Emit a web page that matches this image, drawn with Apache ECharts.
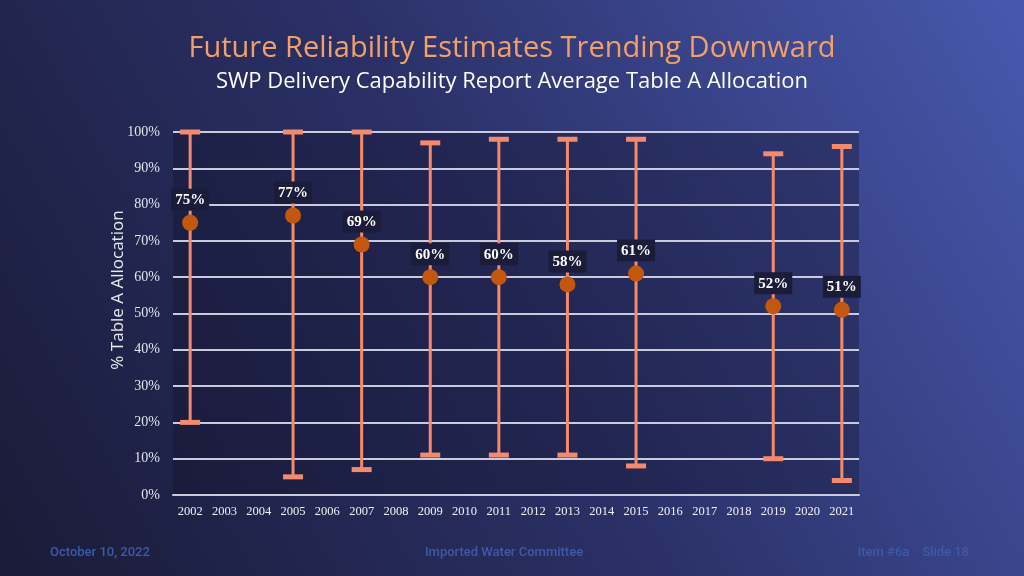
<!DOCTYPE html>
<html>
<head>
  <meta charset="utf-8" />
  <title>Future Reliability Estimates</title>
  <style>
    html, body { margin: 0; padding: 0; width: 1024px; height: 576px; overflow: hidden; background: #1b1e3a; }
    #chartBox { width: 1024px; height: 576px; }
  </style>
</head>
<body>
  <div id="chartBox"></div>
</body>
<script src="https://cdn.jsdelivr.net/npm/echarts@6/dist/echarts.min.js"></script>
<script>
  // x axis years
  var years = ['2002', '2003', '2004', '2005', '2006', '2007', '2008', '2009', '2010', '2011',
               '2012', '2013', '2014', '2015', '2016', '2017', '2018', '2019', '2020', '2021'];
  // report years that have a value
  var reportYears = ['2002', '2005', '2007', '2009', '2011', '2013', '2015', '2019', '2021'];
  var avgAlloc  = [75, 77, 69, 60, 60, 58, 61, 52, 51];
  var lowAlloc  = [20, 5, 7, 11, 11, 11, 8, 10, 4];
  var highAlloc = [100, 100, 100, 97, 98, 98, 98, 94, 96];
  var yTicks = [0, 10, 20, 30, 40, 50, 60, 70, 80, 90, 100];

  var whiskerColor = '#f38a6c';
  var dotColor = '#c2570d';
  var serif = '"Liberation Serif", "DejaVu Serif", serif';
  var sans = '"Open Sans", "Noto Sans", sans-serif';

  (function() {
    var rangeData = reportYears.map(function(y, i) {
      return [years.indexOf(y), lowAlloc[i], highAlloc[i]];
    });
    var avgData = reportYears.map(function(y, i) {
      return [years.indexOf(y), avgAlloc[i]];
    });

    var myChart = echarts.init(document.getElementById('chartBox'));
    var option = {
      backgroundColor: new echarts.graphic.LinearGradient(0, 1, 1, 0, [
        {offset: 0, color: '#191b37'},
        {offset: 0.5, color: '#2b3168'},
        {offset: 1, color: '#4858ae'}
      ]),
      title: [
        {
          text: 'Future Reliability Estimates Trending Downward',
          left: 'center',
          top: 28,
          textStyle: {color: '#f2a068', fontFamily: sans, fontSize: 29, fontWeight: 'normal', lineHeight: 32}
        },
        {
          text: 'SWP Delivery Capability Report Average Table A Allocation',
          left: 'center',
          top: 65,
          textStyle: {color: '#ffffff', fontFamily: sans, fontSize: 22, fontWeight: 'normal', lineHeight: 24}
        }
      ],
      grid: {
        left: 173,
        right: 165,
        top: 132,
        bottom: 81,
        show: true,
        backgroundColor: 'rgba(16,18,40,0.35)',
        borderWidth: 0
      },
      xAxis: {
        type: 'category',
        data: years,
        axisLine: {show: true, lineStyle: {color: '#c9cbdc', width: 2}},
        axisTick: {show: false},
        axisLabel: {color: '#f0f0f6', fontFamily: serif, fontSize: 12.5, margin: 10, interval: 0}
      },
      yAxis: {
        type: 'value',
        min: yTicks[0],
        max: yTicks[yTicks.length - 1],
        interval: 10,
        axisLine: {show: false},
        axisTick: {show: false},
        axisLabel: {color: '#e4e4ee', fontFamily: serif, fontSize: 14, margin: 13, formatter: '{value}%'},
        splitLine: {lineStyle: {color: '#c9cbdc', width: 2}}
      },
      graphic: [
        {
          type: 'text', x: 118, y: 290, rotation: Math.PI / 2,
          style: {text: '% Table A Allocation', fill: '#e8e8f0', font: '17px ' + sans, align: 'center', verticalAlign: 'middle'}
        },
        {
          type: 'text', x: 50, y: 553,
          style: {text: 'October 10, 2022', fill: '#3d5aa8', font: '500 13px Roboto', verticalAlign: 'middle'}
        },
        {
          type: 'text', x: 504, y: 553,
          style: {text: 'Imported Water Committee', fill: '#3d5aa8', font: '500 13px Roboto', align: 'center', verticalAlign: 'middle'}
        },
        {
          type: 'text', x: 969, y: 553,
          style: {text: 'Item #6a    Slide 18', fill: '#3d5aa8', font: '500 13px Roboto', align: 'right', verticalAlign: 'middle'}
        }
      ],
      series: [
        {
          type: 'custom',
          data: rangeData,
          z: 3,
          renderItem: function(params, api) {
            var lo = api.coord([api.value(0), api.value(1)]);
            var hi = api.coord([api.value(0), api.value(2)]);
            var capW = 20, capH = 5;
            return {
              type: 'group',
              children: [
                {type: 'line', shape: {x1: lo[0], y1: lo[1], x2: hi[0], y2: hi[1]}, style: {stroke: whiskerColor, lineWidth: 3}},
                {type: 'rect', shape: {x: hi[0] - capW / 2, y: hi[1] - capH / 2, width: capW, height: capH}, style: {fill: whiskerColor}},
                {type: 'rect', shape: {x: lo[0] - capW / 2, y: lo[1] - capH / 2, width: capW, height: capH}, style: {fill: whiskerColor}}
              ]
            };
          }
        },
        {
          type: 'scatter',
          data: avgData,
          z: 4,
          symbol: 'circle',
          symbolSize: 16,
          itemStyle: {color: dotColor, opacity: 1},
          label: {
            show: true,
            position: 'top',
            distance: 4,
            formatter: function(p) { return p.value[1] + '%'; },
            color: '#ffffff',
            fontFamily: serif,
            fontSize: 15,
            fontWeight: 'bold',
            backgroundColor: '#1a1c3a',
            padding: [4, 4, 3, 4]
          }
        }
      ]
    };
    myChart.setOption(option);
  })();
</script>
</html>
